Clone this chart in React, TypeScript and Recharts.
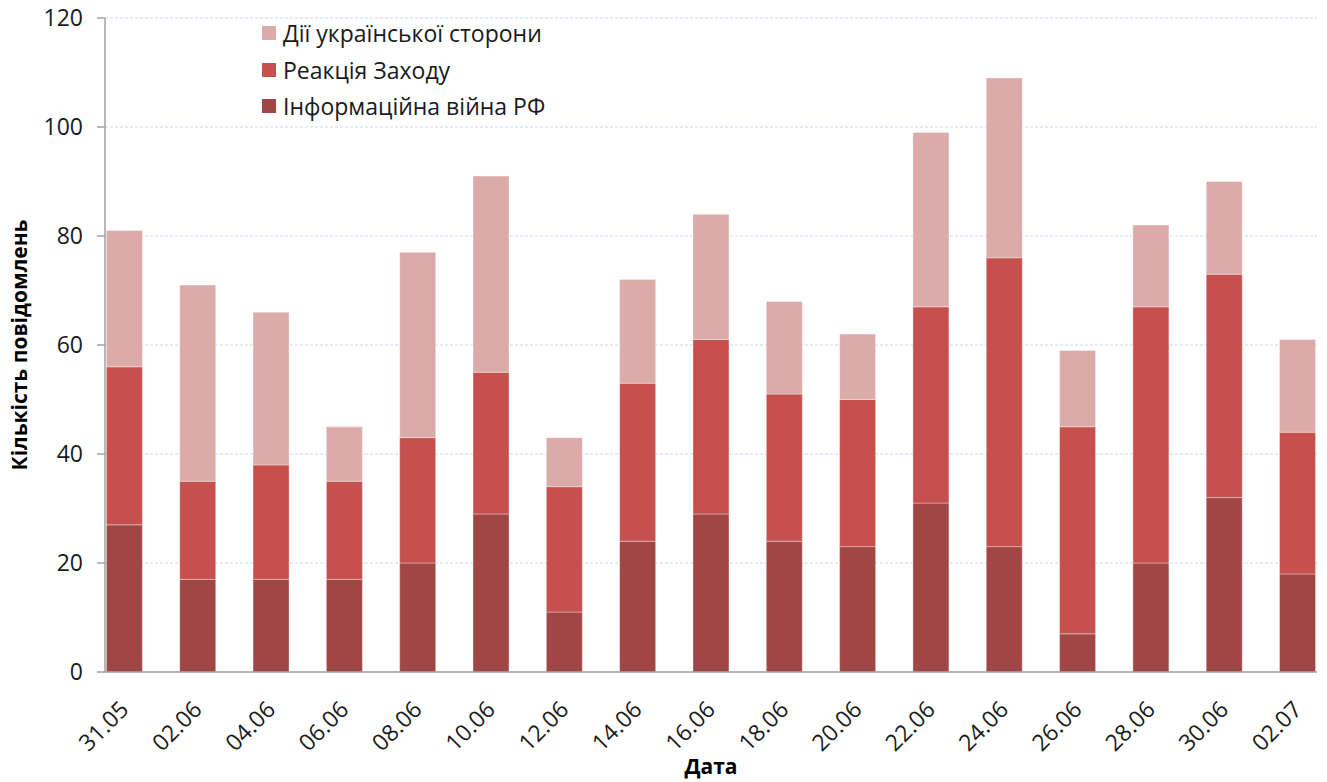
import React from "react";
import { BarChart, Bar, XAxis, YAxis, CartesianGrid, Legend } from "recharts";

const categories = ["31.05","02.06","04.06","06.06","08.06","10.06","12.06","14.06","16.06","18.06","20.06","22.06","24.06","26.06","28.06","30.06","02.07"];
const infoWar = [27, 17, 17, 17, 20, 29, 11, 24, 29, 24, 23, 31, 23, 7, 20, 32, 18];
const westReaction = [29, 18, 21, 18, 23, 26, 23, 29, 32, 27, 27, 36, 53, 38, 47, 41, 26];
const ukraineActions = [25, 36, 28, 10, 34, 36, 9, 19, 23, 17, 12, 32, 33, 14, 15, 17, 17];
const yTicks = [0, 20, 40, 60, 80, 100, 120];

const SERIES = [
  { key: "ukr", name: "Дії української сторони", color: "#DBABAA" },
  { key: "west", name: "Реакція Заходу", color: "#C5504D" },
  { key: "info", name: "Інформаційна війна РФ", color: "#A04644" },
];

const data = categories.map((c, i) => ({
  idx: i,
  label: c,
  info: infoWar[i],
  west: westReaction[i],
  ukr: ukraineActions[i],
}));

const FONT = "'Open Sans', 'Noto Sans', sans-serif";

const XTick = (props: any) => {
  const { x, y, payload } = props;
  const tx = x + 6;
  const ty = y + 39;
  return (
    <text x={tx} y={ty} transform={`rotate(-45, ${tx}, ${ty})`} textAnchor="end" fontSize={23} fill="#1a1a1a" fontFamily={FONT}>
      {categories[payload.value]}
    </text>
  );
};

const LegendContent = () => (
  <div style={{ fontFamily: FONT, fontSize: 23, color: "#1a1a1a" }}>
    {SERIES.map((s) => (
      <div key={s.key} style={{ display: "flex", alignItems: "center", height: 36.5 }}>
        <div style={{ width: 14, height: 14, background: s.color, marginRight: 7 }} />
        <span>{s.name}</span>
      </div>
    ))}
  </div>
);

export default function App() {
  return (
    <div style={{ position: "absolute", left: 0, top: 0, background: "#fff" }}>
      <BarChart width={1327} height={782} data={data} margin={{ top: 18, right: 10, bottom: 0, left: 0 }}>
        <CartesianGrid vertical={false} stroke="#C8D8EE" strokeDasharray="3 2" />
        <XAxis
          dataKey="idx"
          type="number"
          domain={[-0.26, 16.27]}
          ticks={categories.map((_, i) => i)}
          interval={0}
          tick={<XTick />}
          tickLine={false}
          tickSize={0}
          tickMargin={0}
          height={110}
          stroke="#A0A0A0"
          strokeWidth={1.5}
          label={{ value: "Дата", position: "insideBottom", offset: 8, fontSize: 21, fontWeight: 700, fill: "#000", fontFamily: FONT }}
        />
        <YAxis
          domain={[0, 120]}
          ticks={yTicks}
          width={105}
          tickSize={8}
          tickMargin={14}
          stroke="#A0A0A0"
          strokeWidth={1.5}
          tick={{ fontSize: 23, fill: "#1a1a1a", fontFamily: FONT }}
          label={{ value: "Кількість повідомлень", angle: -90, position: "insideLeft", offset: 20, fontSize: 21, fontWeight: 700, fill: "#000", fontFamily: FONT, style: { textAnchor: "middle" } }}
        />
        <Legend
          content={<LegendContent />}
          layout="vertical"
          verticalAlign="middle"
          align="center"
          wrapperStyle={{ left: 262, top: 15, width: 340 }}
        />
        <Bar dataKey="info" name={SERIES[2].name} stackId="a" fill={SERIES[2].color} barSize={36} isAnimationActive={false} stroke="#ffffff" strokeOpacity={0.35} />
        <Bar dataKey="west" name={SERIES[1].name} stackId="a" fill={SERIES[1].color} barSize={36} isAnimationActive={false} stroke="#ffffff" strokeOpacity={0.35} />
        <Bar dataKey="ukr" name={SERIES[0].name} stackId="a" fill={SERIES[0].color} barSize={36} isAnimationActive={false} stroke="#ffffff" strokeOpacity={0.35} />
      </BarChart>
    </div>
  );
}
